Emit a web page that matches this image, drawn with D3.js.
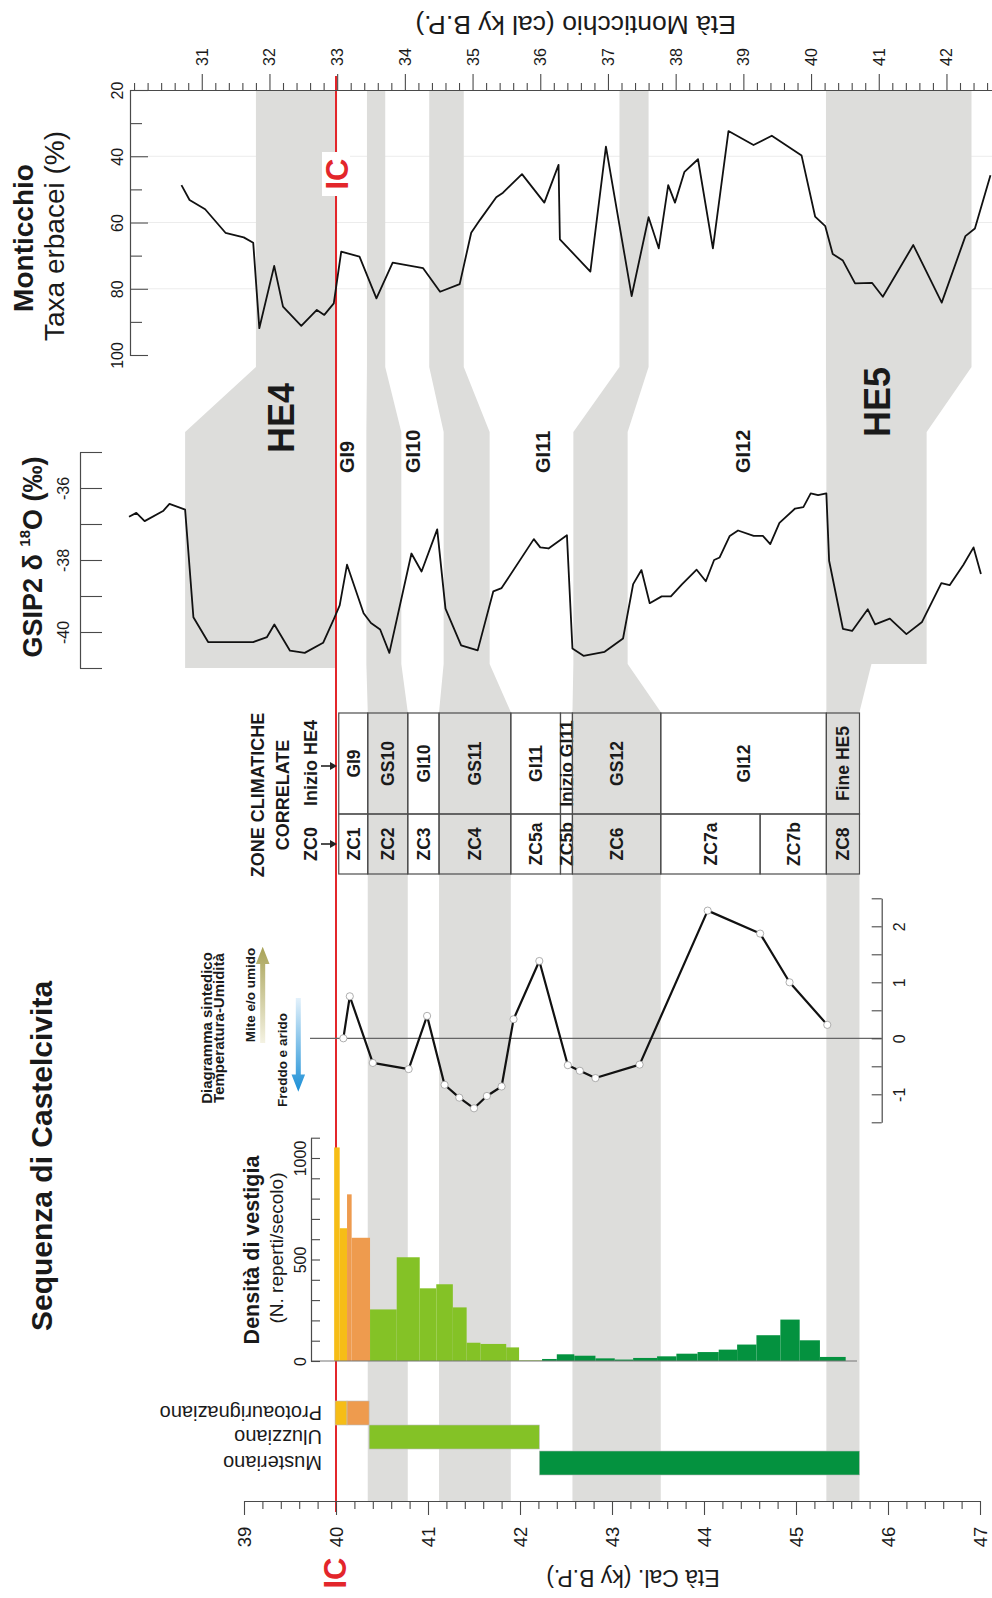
<!DOCTYPE html>
<html lang="it">
<head>
<meta charset="utf-8">
<title>Sequenza di Castelcivita</title>
<script src="https://cdn.jsdelivr.net/npm/d3@7"></script>
<style>
  html, body { margin: 0; padding: 0; background: #fff; }
  svg { display: block; }
  text { font-family: "Liberation Sans", Arial, Helvetica, sans-serif; fill: #1a1a1a; }
</style>
</head>
<body>
<svg id="chart" width="992" height="1598" viewBox="0 0 992 1598"></svg>
<script>
// ---------------- data ----------------
// Castelcivita calibrated age axis (ky cal B.P.)
const castelTicks = [39, 40, 41, 42, 43, 44, 45, 46, 47];
// Monticchio age axis (cal ky B.P.)
const montTicks = [31, 32, 33, 34, 35, 36, 37, 38, 39, 40, 41, 42];
const montPctTicks = [20, 40, 60, 80, 100];
const montPctMinor = [30, 50, 70, 90];
const montGrid = [40, 60, 80];
const gispTicks = [-35, -36, -37, -38, -39, -40, -41];
const gispLabelled = [-36, -38, -40];
const densTicks = [0, 100, 200, 300, 400, 500, 600, 700, 800, 900, 1000, 1100];
const densLabelled = [0, 500, 1000];
const climTicks = [-1.5, -1, -0.5, 0, 0.5, 1, 1.5, 2, 2.5];
const climLabelled = [-1, 0, 1, 2];

// Monticchio: herbaceous taxa (%) against Monticchio age
const montAge = [30.70, 30.82, 31.05, 31.35, 31.62, 31.76, 31.85, 32.07, 32.20, 32.47, 32.70, 32.81, 32.95,
  33.06, 33.33, 33.58, 33.82, 34.27, 34.52, 34.81, 34.98, 35.11, 35.35, 35.45, 35.73, 36.06, 36.27, 36.29,
  36.74, 36.97, 37.35, 37.60, 37.75, 37.89, 37.99, 38.13, 38.33, 38.55, 38.78, 39.15, 39.42, 39.86, 40.06,
  40.21, 40.32, 40.47, 40.65, 40.90, 41.06, 41.51, 41.93, 42.28, 42.42, 42.65];
const montHerb = [48.7, 53.2, 56.0, 63.1, 64.5, 66.1, 91.9, 73.1, 85.4, 91.2, 86.4, 87.9, 84.4,
  68.8, 70.3, 82.9, 72.1, 73.8, 80.9, 78.6, 63.1, 59.2, 52.4, 51.0, 45.4, 54.0, 42.6, 65.1,
  74.8, 37.1, 82.2, 58.4, 67.8, 48.7, 54.0, 44.7, 40.9, 67.8, 32.4, 36.6, 33.8, 39.8, 58.2,
  61.1, 69.5, 71.5, 78.4, 78.2, 82.4, 66.8, 84.2, 64.1, 61.8, 45.7];

// GISP2 δ18O (‰), placed on the Castelcivita age scale
const gispAge = [37.75, 37.83, 37.92, 38.12, 38.19, 38.36, 38.45, 38.61, 39.10, 39.25, 39.33, 39.50, 39.66,
  39.86, 39.97, 40.04, 40.12, 40.30, 40.38, 40.48, 40.58, 40.82, 40.93, 41.10, 41.19, 41.36, 41.54, 41.71,
  41.80, 42.15, 42.22, 42.31, 42.51, 42.57, 42.69, 42.92, 43.12, 43.23, 43.32, 43.41, 43.54, 43.64, 43.76,
  43.92, 44.02, 44.11, 44.17, 44.28, 44.37, 44.54, 44.64, 44.72, 44.82, 44.99, 45.08, 45.16, 45.24, 45.33,
  45.36, 45.51, 45.61, 45.78, 45.86, 46.02, 46.20, 46.37, 46.58, 46.67, 46.82, 46.93, 47.01];
const gispD18O = [-36.80, -36.69, -36.92, -36.64, -36.44, -36.60, -39.59, -40.28, -40.28, -40.14, -39.79, -40.52, -40.58,
  -40.30, -39.68, -39.26, -38.13, -39.48, -39.75, -39.93, -40.58, -37.82, -38.32, -37.15, -39.35, -40.37, -40.51, -38.87,
  -38.78, -37.42, -37.65, -37.68, -37.31, -40.46, -40.66, -40.55, -40.18, -38.67, -38.28, -39.20, -39.01, -39.01, -38.68,
  -38.27, -38.59, -38.00, -37.93, -37.33, -37.18, -37.33, -37.33, -37.56, -36.97, -36.57, -36.53, -36.15, -36.20, -36.15,
  -38.02, -39.91, -39.97, -39.37, -39.79, -39.63, -40.06, -39.72, -38.64, -38.70, -38.13, -37.65, -38.39];

// Synthetic temperature-humidity index
const climAge = [40.08, 40.15, 40.40, 40.79, 40.99, 41.18, 41.34, 41.50, 41.64, 41.80, 41.93, 42.21,
  42.52, 42.65, 42.82, 43.30, 44.04, 44.61, 44.93, 45.34];
const climIndex = [0.0, 0.75, -0.44, -0.55, 0.40, -0.83, -1.06, -1.25, -1.03, -0.86, 0.34, 1.38,
  -0.48, -0.58, -0.71, -0.47, 2.28, 1.87, 1.00, 0.24];

// Density of finds (n. finds per century)
const densFrom = [39.98, 40.04, 40.12, 40.17, 40.37, 40.66, 40.91, 41.09, 41.27, 41.42, 41.57, 41.85, 41.99,
  42.24, 42.40, 42.59, 42.82, 43.03, 43.23, 43.49, 43.70, 43.93, 44.16, 44.36, 44.57, 44.83, 45.04, 45.26];
const densTo = [40.04, 40.12, 40.17, 40.37, 40.66, 40.91, 41.09, 41.27, 41.42, 41.57, 41.85, 41.99, 42.24,
  42.40, 42.59, 42.82, 43.03, 43.23, 43.49, 43.70, 43.93, 44.16, 44.36, 44.57, 44.83, 45.04, 45.26, 45.54];
const densValue = [1052, 654, 821, 607, 254, 511, 358, 378, 264, 90, 84, 67, 3,
  10, 33, 26, 13, 7, 15, 23, 36, 44, 56, 81, 127, 204, 102, 20];
const densTone = [0, 0, 1, 1, 2, 2, 2, 2, 2, 2, 2, 2, 2,
  3, 3, 3, 3, 3, 3, 3, 3, 3, 3, 3, 3, 3, 3, 3];

// Cultural phases
const phaseLabels = ["Protoaurignaziano", "Uluzziano", "Musteriano"];
const phaseRow = [0, 0, 1, 2];
const phaseFrom = [39.99, 40.12, 40.36, 42.21];
const phaseTo = [40.12, 40.36, 42.21, 45.69];
const phaseTone = [0, 1, 2, 3];
const toneColors = ["#f6bd16", "#ee9b4e", "#84c226", "#04923f"];

// Correlated climatic zones
const zoneLabels = ["GI9", "GS10", "GI10", "GS11", "GI11", "Inizio GI11", "GS12", "GI12", "Fine HE5"];
const zoneEdges = [40.03, 40.345, 40.78, 41.12, 41.90, 42.44, 42.57, 43.53, 45.33, 45.69];
const zcLabels = ["ZC1", "ZC2", "ZC3", "ZC4", "ZC5a", "ZC5b", "ZC6", "ZC7a", "ZC7b", "ZC8"];
const zcEdges = [40.03, 40.345, 40.78, 41.12, 41.90, 42.44, 42.57, 43.53, 44.61, 45.33, 45.69];

// Cold events: extent on the Monticchio scale, in the GISP2 panel, and at Castelcivita
const bandLabels = ["HE4", "GS10", "GS11", "GS12", "HE5"];
const bandMont = [[31.8, 33.0], [33.44, 33.71], [34.36, 34.87], [37.17, 37.60], [40.22, 42.37]];
const bandGisp = [[38.36, 40.0], [40.33, 40.71], [41.17, 41.67], [42.58, 43.17], [45.33, 46.42]];
const bandGispFoot = [[38.36, 40.0], [40.33, 40.71], [41.17, 41.67], [42.58, 43.17], [45.33, 45.82]];
const bandCastel = [null, [40.345, 40.78], [41.12, 41.90], [42.57, 43.53], [45.33, 45.69]];
const heLabels = ["HE4", "HE5"];
const heMontAge = [32.18, 40.98];

const giLabels = ["GI9", "GI10", "GI11", "GI12"];
const giAge = [40.12, 40.84, 42.25, 44.42];

const icCastel = 40.0;
const icMont = 33.0;

// ---------------- scales ----------------
const svg = d3.select("#chart");
const xC = d3.scaleLinear().domain([39, 47]).range([244, 980]);
const xM = d3.scaleLinear().domain([29.94, 42.9]).range([130, 130 + (42.9 - 29.94) * 67.7]);
const yM = d3.scaleLinear().domain([20, 100]).range([90, 355]);
const yG = d3.scaleLinear().domain([-35, -41]).range([452, 668]);
const yT = d3.scaleLinear().domain([-1.5, 2.5]).range([1122.3, 898.3]);
const yD = d3.scaleLinear().domain([0, 1100]).range([1361, 1137.7]);

const AX = "#4a4a4a";
const BAND = "#dddddb";

function vtext(parent, x, y, str, size, opts = {}) {
  return parent.append("text")
    .attr("transform", `translate(${x},${y}) rotate(${opts.rot == null ? -90 : opts.rot})`)
    .attr("text-anchor", opts.anchor || "middle")
    .attr("dominant-baseline", opts.baseline || "central")
    .style("font-size", size + "px")
    .style("font-weight", opts.weight || "normal")
    .style("fill", opts.fill || "#1a1a1a")
    .text(str);
}
function styleAxis(g) {
  g.selectAll("path.domain").attr("stroke", AX).attr("stroke-width", 1.2);
  g.selectAll(".tick line").attr("stroke", AX).attr("stroke-width", 1.1);
  g.selectAll("text").style("font-family", '"Liberation Sans", Arial, sans-serif').attr("fill", "#1a1a1a");
}

// ---------------- Monticchio grid ----------------
svg.append("g").selectAll("line").data(montGrid).join("line")
  .attr("x1", 148).attr("x2", 992)
  .attr("y1", d => yM(d)).attr("y2", d => yM(d))
  .attr("stroke", "#ececec").attr("stroke-width", 1);

// ---------------- cold-event bands ----------------
const Y_TOP = 90, Y_M = 367, Y_G0 = 432, Y_G1 = 664, Y_L = 712, Y_BOT = 1501;
const bandG = svg.append("g");
bandLabels.forEach((name, i) => {
  const m = bandMont[i].map(xM), g = bandGisp[i].map(xC), f = bandGispFoot[i].map(xC);
  let pts;
  if (!bandCastel[i]) {
    pts = [[m[0], Y_TOP], [m[1], Y_TOP], [m[1], Y_M], [g[1], Y_G0], [g[1], 668], [g[0], 668], [g[0], Y_G0], [m[0], Y_M]];
  } else {
    const c = bandCastel[i].map(xC);
    pts = [[m[0], Y_TOP], [m[1], Y_TOP], [m[1], Y_M], [g[1], Y_G0], [g[1], Y_G1], [f[1], Y_G1], [c[1], Y_L], [c[1], Y_BOT],
      [c[0], Y_BOT], [c[0], Y_L], [f[0], Y_G1], [g[0], Y_G1], [g[0], Y_G0], [m[0], Y_M]];
  }
  bandG.append("path").attr("d", d3.line()(pts) + "Z").attr("fill", BAND);
});

// ---------------- IC line ----------------
svg.append("line")
  .attr("x1", xC(icCastel)).attr("x2", xC(icCastel)).attr("y1", 76).attr("y2", 1512)
  .attr("stroke", "#e3262b").attr("stroke-width", 2);

// ---------------- Monticchio panel ----------------
const topMajor = d3.axisTop(xM).tickValues(montTicks).tickSize(16).tickSizeOuter(0).tickFormat(d => String(d));
const gTop = svg.append("g").attr("transform", "translate(0,90)").call(topMajor);
gTop.selectAll("text").attr("y", null).attr("dy", null)
  .attr("transform", "translate(0,-33) rotate(-90)").attr("text-anchor", "middle")
  .attr("dominant-baseline", "central").style("font-size", "16px");
styleAxis(gTop);
const montMinorTicks = d3.range(150, 215).filter(i => i % 5 !== 0 || i === 150).map(i => i / 5);
const gTopMinor = svg.append("g").attr("transform", "translate(0,90)")
  .call(d3.axisTop(xM).tickValues(montMinorTicks).tickSize(7).tickFormat(""));
gTopMinor.select("path.domain").remove();
styleAxis(gTopMinor);

const gMY = svg.append("g").attr("transform", "translate(130,0)")
  .call(d3.axisLeft(yM).tickValues(montPctTicks).tickSizeInner(-18).tickSizeOuter(-18).tickPadding(13).tickFormat(d => String(d)));
gMY.selectAll("text").attr("x", null).attr("dy", null)
  .attr("transform", "translate(-13,0) rotate(-90)").attr("text-anchor", "middle")
  .attr("dominant-baseline", "central").style("font-size", "16px");
styleAxis(gMY);
const gMYm = svg.append("g").attr("transform", "translate(130,0)")
  .call(d3.axisLeft(yM).tickValues(montPctMinor).tickSize(-12).tickFormat(""));
gMYm.select("path.domain").remove();
styleAxis(gMYm);

svg.append("path")
  .attr("d", d3.line().x(d => xM(d[0])).y(d => yM(d[1]))(montAge.map((a, i) => [a, montHerb[i]])))
  .attr("fill", "none").attr("stroke", "#111").attr("stroke-width", 1.8).attr("stroke-linejoin", "round");

vtext(svg, 736, 25, "Età Monticchio  (cal ky B.P.)", 26.5, { rot: 180, anchor: "start" });
vtext(svg, 23, 238, "Monticchio", 28, { weight: "bold" });
vtext(svg, 54, 236, "Taxa erbacei (%)", 28);

// IC label in Monticchio panel
svg.append("rect").attr("x", xC(icCastel) - 14).attr("y", 152).attr("width", 28).attr("height", 44).attr("fill", "#fff");
vtext(svg, xC(icCastel) + 1, 174, "IC", 31, { weight: "bold", fill: "#e3262b" });

// HE labels
heLabels.forEach((l, i) => vtext(svg, xM(heMontAge[i]), i === 0 ? 418 : 402, l, 36, { weight: "bold" }));

// ---------------- GISP2 panel ----------------
const gGY = svg.append("g").attr("transform", "translate(80,0)")
  .call(d3.axisLeft(yG).tickValues(gispTicks).tickSize(-22).tickSizeOuter(0).tickPadding(17)
    .tickFormat(d => gispLabelled.includes(d) ? String(d) : ""));
gGY.selectAll("text").attr("x", null).attr("dy", null)
  .attr("transform", "translate(-17,0) rotate(-90)").attr("text-anchor", "middle")
  .attr("dominant-baseline", "central").style("font-size", "16px");
styleAxis(gGY);

svg.append("path")
  .attr("d", d3.line().x(d => xC(d[0])).y(d => yG(d[1]))(gispAge.map((a, i) => [a, gispD18O[i]])))
  .attr("fill", "none").attr("stroke", "#111").attr("stroke-width", 1.8).attr("stroke-linejoin", "round");

const gTitle = svg.append("text")
  .attr("transform", "translate(33,557) rotate(-90)")
  .attr("text-anchor", "middle").attr("dominant-baseline", "central")
  .style("font-size", "27px").style("font-weight", "bold");
gTitle.append("tspan").text("GSIP2 δ ");
gTitle.append("tspan").attr("dy", -9).style("font-size", "15px").text("18");
gTitle.append("tspan").attr("dy", 9).text("O (‰)");

giLabels.forEach((l, i) => vtext(svg, xC(giAge[i]), 473, l, 20, { weight: "bold", anchor: "start" }));

// ---------------- correlated zones table ----------------
const tbl = svg.append("g");
const T0 = 713, T1 = 814, T2 = 874;
zoneLabels.forEach((l, i) => {
  const a = xC(zoneEdges[i]), b = xC(zoneEdges[i + 1]);
  tbl.append("rect").attr("x", a).attr("y", T0).attr("width", b - a).attr("height", T1 - T0)
    .attr("fill", "none").attr("stroke", "#4d4d4d").attr("stroke-width", 1.2);
  vtext(tbl, (a + b) / 2 + 0.5, (T0 + T1) / 2, l, 17.5, { weight: "bold" });
});
zcLabels.forEach((l, i) => {
  const a = xC(zcEdges[i]), b = xC(zcEdges[i + 1]);
  tbl.append("rect").attr("x", a).attr("y", T1).attr("width", b - a).attr("height", T2 - T1)
    .attr("fill", "none").attr("stroke", "#4d4d4d").attr("stroke-width", 1.2);
  vtext(tbl, (a + b) / 2 + 0.5, (T1 + T2) / 2, l, 17.5, { weight: "bold" });
});
vtext(svg, 258, 795, "ZONE CLIMATICHE", 18, { weight: "bold" });
vtext(svg, 283, 795, "CORRELATE", 18, { weight: "bold" });
vtext(svg, 311, 763, "Inizio HE4", 18, { weight: "bold" });
vtext(svg, 311, 844, "ZC0", 18, { weight: "bold" });
const arrowHead = (x, y) => `M${x},${y} l-7,-4 v8 Z`;
[766, 844].forEach(y => {
  svg.append("line").attr("x1", 321).attr("x2", 331).attr("y1", y).attr("y2", y).attr("stroke", "#222").attr("stroke-width", 1.6);
  svg.append("path").attr("d", arrowHead(337, y)).attr("fill", "#222");
});

// ---------------- temperature-humidity diagram ----------------
svg.append("line").attr("x1", 310).attr("x2", 881.7).attr("y1", yT(0)).attr("y2", yT(0))
  .attr("stroke", "#666").attr("stroke-width", 1.3);
const gTY = svg.append("g").attr("transform", "translate(881.7,0)")
  .call(d3.axisRight(yT).tickValues(climTicks).tickSize(-10).tickSizeOuter(0).tickPadding(18)
    .tickFormat(d => climLabelled.includes(d) ? String(d) : ""));
gTY.selectAll("text").attr("x", null).attr("dy", null)
  .attr("transform", "translate(18,0) rotate(-90)").attr("text-anchor", "middle")
  .attr("dominant-baseline", "central").style("font-size", "16px");
styleAxis(gTY);

const climPts = climAge.map((a, i) => [a, climIndex[i]]);
svg.append("path")
  .attr("d", d3.line().x(d => xC(d[0])).y(d => yT(d[1]))(climPts))
  .attr("fill", "none").attr("stroke", "#111").attr("stroke-width", 2.2).attr("stroke-linejoin", "round");
svg.append("g").selectAll("circle").data(climPts).join("circle")
  .attr("cx", d => xC(d[0])).attr("cy", d => yT(d[1])).attr("r", 3.6)
  .attr("fill", "#fff").attr("stroke", "#9a9a9a").attr("stroke-width", 0.8);

const defs = svg.append("defs");
const gOl = defs.append("linearGradient").attr("id", "olive").attr("x1", 0).attr("y1", 1).attr("x2", 0).attr("y2", 0);
gOl.append("stop").attr("offset", 0).attr("stop-color", "#f4f2e2");
gOl.append("stop").attr("offset", 1).attr("stop-color", "#a8a256");
const gBl = defs.append("linearGradient").attr("id", "blue").attr("x1", 0).attr("y1", 0).attr("x2", 0).attr("y2", 1);
gBl.append("stop").attr("offset", 0).attr("stop-color", "#e3f1fb");
gBl.append("stop").attr("offset", 1).attr("stop-color", "#1b8fd6");
svg.append("path").attr("d", "M262.7,946.7 L269.5,964 L265.2,964 L265.2,1043 L260.2,1043 L260.2,964 L255.9,964 Z").attr("fill", "url(#olive)");
svg.append("path").attr("d", "M298.3,1091.7 L305.1,1074.5 L300.8,1074.5 L300.8,998 L295.8,998 L295.8,1074.5 L291.5,1074.5 Z").attr("fill", "url(#blue)");
vtext(svg, 250, 995, "Mite e/o umido", 13.5, { weight: "bold" });
vtext(svg, 282, 1060, "Freddo e arido", 13.5, { weight: "bold" });
vtext(svg, 206, 1028, "Diagramma sintedico", 15, { weight: "bold" });
vtext(svg, 218, 1028, "Temperatura-Umidità", 15, { weight: "bold" });

// ---------------- density of finds ----------------
svg.append("g").selectAll("rect").data(densValue).join("rect")
  .attr("x", (d, i) => xC(densFrom[i]))
  .attr("width", (d, i) => xC(densTo[i]) - xC(densFrom[i]))
  .attr("y", d => yD(d))
  .attr("height", d => yD(0) - yD(d))
  .attr("fill", (d, i) => toneColors[densTone[i]]);
svg.append("line").attr("x1", 311).attr("x2", 857).attr("y1", yD(0)).attr("y2", yD(0))
  .attr("stroke", "#777").attr("stroke-width", 1.2);
const gDY = svg.append("g").attr("transform", "translate(311,0)")
  .call(d3.axisLeft(yD).tickValues(densTicks).tickSize(-9).tickSizeOuter(0).tickPadding(11)
    .tickFormat(d => densLabelled.includes(d) ? String(d) : ""));
gDY.selectAll("text").attr("x", null).attr("dy", null)
  .attr("transform", "translate(-11,0) rotate(-90)").attr("text-anchor", "middle")
  .attr("dominant-baseline", "central").style("font-size", "16px");
styleAxis(gDY);
vtext(svg, 252, 1250, "Densità di vestigia", 21.5, { weight: "bold" });
vtext(svg, 276, 1248, "(N. reperti/secolo)", 19);
vtext(svg, 41, 1156, "Sequenza di Castelcivita", 30, { weight: "bold" });

// ---------------- cultural phases ----------------
const rowY = [1401, 1425, 1451];
const rowH = 24;
svg.append("g").selectAll("rect").data(phaseFrom).join("rect")
  .attr("x", (d, i) => xC(phaseFrom[i]))
  .attr("width", (d, i) => xC(phaseTo[i]) - xC(phaseFrom[i]))
  .attr("y", (d, i) => rowY[phaseRow[i]])
  .attr("height", rowH)
  .attr("fill", (d, i) => toneColors[phaseTone[i]])
  .attr("stroke", "#bdbdbd").attr("stroke-width", 0.6);
phaseLabels.forEach((l, i) => vtext(svg, 322, rowY[i] + rowH / 2, l, 20, { rot: 180, anchor: "start" }));

// ---------------- Castelcivita age axis ----------------
const gBot = svg.append("g").attr("transform", `translate(0,${Y_BOT})`)
  .call(d3.axisBottom(xC).tickValues(castelTicks).tickSize(14).tickSizeOuter(0).tickFormat(d => String(d)));
gBot.selectAll("text").attr("y", null).attr("dy", null)
  .attr("transform", "translate(0,36) rotate(-90)").attr("text-anchor", "middle")
  .attr("dominant-baseline", "central").style("font-size", "18.5px");
styleAxis(gBot);
const castelMinor = d3.range(195, 236).filter(i => i % 5 !== 0).map(i => i / 5);
const gBotMinor = svg.append("g").attr("transform", `translate(0,${Y_BOT})`)
  .call(d3.axisBottom(xC).tickValues(castelMinor).tickSize(8).tickFormat(""));
gBotMinor.select("path.domain").remove();
styleAxis(gBotMinor);
vtext(svg, 633, 1578, "Età Cal. (ky B.P.)", 23, { rot: 180 });
vtext(svg, xC(icCastel) - 1, 1573, "IC", 31, { weight: "bold", fill: "#e3262b" });
</script>
</body>
</html>
